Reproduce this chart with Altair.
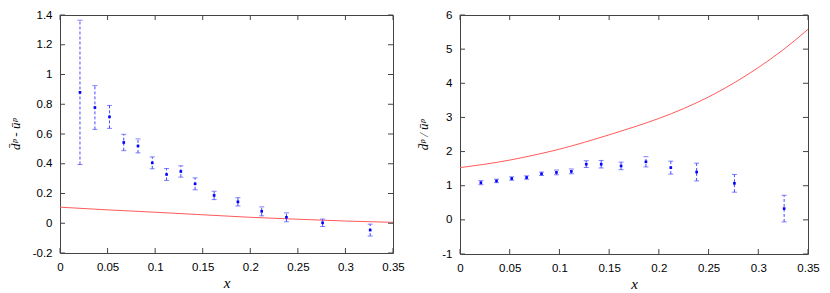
import altair as alt
import pandas as pd

# ---- data ----
x_bins = [0.021, 0.0367, 0.052, 0.067, 0.082, 0.097, 0.112, 0.127, 0.142,
          0.162, 0.187, 0.212, 0.238, 0.276, 0.326]

diff_vals = [0.88, 0.778, 0.715, 0.543, 0.52, 0.406, 0.328, 0.348, 0.265,
             0.187, 0.144, 0.08, 0.04, 0.003, -0.046]
diff_errs = [0.485, 0.147, 0.077, 0.055, 0.047, 0.04, 0.04, 0.038, 0.04,
             0.028, 0.028, 0.03, 0.03, 0.025, 0.04]

ratio_vals = [1.09, 1.14, 1.21, 1.24, 1.35, 1.39, 1.42, 1.63, 1.63,
              1.58, 1.70, 1.53, 1.40, 1.07, 0.33]
ratio_errs = [0.06, 0.05, 0.05, 0.05, 0.05, 0.07, 0.07, 0.10, 0.11,
              0.11, 0.15, 0.19, 0.26, 0.26, 0.39]

diff_curve_x = [0.0, 0.05, 0.1, 0.15, 0.2, 0.25, 0.3, 0.35]
diff_curve_y = [0.108, 0.090, 0.074, 0.057, 0.040, 0.027, 0.015, 0.006]

ratio_curve_x = [0.0, 0.025, 0.05, 0.075, 0.1, 0.125, 0.15, 0.175, 0.2,
                 0.225, 0.25, 0.275, 0.3, 0.325, 0.35]
ratio_curve_y = [1.53, 1.63, 1.75, 1.90, 2.07, 2.27, 2.49, 2.72, 2.97,
                 3.26, 3.60, 4.00, 4.46, 4.98, 5.58]

x_ticks = [0, 0.05, 0.1, 0.15, 0.2, 0.25, 0.3, 0.35]
diff_ticks = [-0.2, 0, 0.2, 0.4, 0.6, 0.8, 1.0, 1.2, 1.4]
ratio_ticks = [-1, 0, 1, 2, 3, 4, 5, 6]

LABEL_EXPR = ("datum.value < 0 ? '-' + format(-datum.value, '~g') "
              ": format(datum.value, '~g')")
BLUE = "#0000ff"
BAR = "#4a4aff"
RED = "#ff5a5a"
FRAME = "#444444"


def panel(vals, errs, cx, cy, ydomain, yticks, ytitle, width, height, ytitle_pad):
    pts = pd.DataFrame({
        "x": x_bins,
        "y": vals,
        "lo": [v - e for v, e in zip(vals, errs)],
        "hi": [v + e for v, e in zip(vals, errs)],
    })
    xscale = alt.Scale(domain=[0, 0.35], nice=False, zero=False)
    yscale = alt.Scale(domain=ydomain, nice=False, zero=False)
    xaxis = alt.Axis(values=x_ticks, labelExpr=LABEL_EXPR, title="x",
                     labelOverlap=False, labelFlush=False,
                     titleFont="Liberation Serif", titleFontStyle="italic",
                     titleFontSize=15, titleFontWeight="normal",
                     titlePadding=3, labelPadding=8)
    yaxis = alt.Axis(values=yticks, labelExpr=LABEL_EXPR, title=ytitle,
                     labelOverlap=False, labelFlush=False,
                     titleFont="Liberation Serif", titleFontStyle="italic",
                     titleFontSize=13, titleFontWeight="normal",
                     titlePadding=ytitle_pad, labelPadding=8)

    curve = alt.Chart(pd.DataFrame({"cx": cx, "cy": cy})).mark_line(
        color=RED, strokeWidth=1, interpolate="monotone", clip=True
    ).encode(
        x=alt.X("cx:Q", scale=xscale, axis=xaxis),
        y=alt.Y("cy:Q", scale=yscale, axis=yaxis),
    )
    base = alt.Chart(pts)
    bars = base.mark_rule(color=BAR, strokeWidth=1, strokeDash=[3, 2]).encode(
        x=alt.X("x:Q", axis=xaxis), y=alt.Y("lo:Q", axis=yaxis), y2="hi:Q")
    cap_lo = base.mark_tick(color=BAR, orient="horizontal", size=5,
                            thickness=1).encode(
        x=alt.X("x:Q", axis=xaxis), y=alt.Y("lo:Q", axis=yaxis))
    cap_hi = base.mark_tick(color=BAR, orient="horizontal", size=5,
                            thickness=1).encode(
        x=alt.X("x:Q", axis=xaxis), y=alt.Y("hi:Q", axis=yaxis))
    dots = base.mark_square(color=BLUE, size=7, opacity=1).encode(
        x=alt.X("x:Q", axis=xaxis), y=alt.Y("y:Q", axis=yaxis))

    ydf = alt.Chart(pd.DataFrame({"t": yticks}))
    xdf = alt.Chart(pd.DataFrame({"t": x_ticks}))
    tick_l = ydf.mark_rule(color=FRAME).encode(
        y=alt.Y("t:Q", axis=yaxis), x=alt.value(0), x2=alt.value(5))
    tick_r = ydf.mark_rule(color=FRAME).encode(
        y=alt.Y("t:Q", axis=yaxis), x=alt.value(width), x2=alt.value(width - 5))
    tick_b = xdf.mark_rule(color=FRAME).encode(
        x=alt.X("t:Q", axis=xaxis), y=alt.value(height), y2=alt.value(height - 5))
    tick_t = xdf.mark_rule(color=FRAME).encode(
        x=alt.X("t:Q", axis=xaxis), y=alt.value(0), y2=alt.value(5))

    return alt.layer(curve, bars, cap_lo, cap_hi, dots,
                     tick_l, tick_r, tick_b, tick_t).properties(
        width=width, height=height)


left = panel(diff_vals, diff_errs, diff_curve_x, diff_curve_y,
             [-0.2, 1.4], diff_ticks, "d\u0304\u1d56 - u\u0304\u1d56",
             333, 238, 10)
right = panel(ratio_vals, ratio_errs, ratio_curve_x, ratio_curve_y,
              [-1, 6], ratio_ticks, "d\u0304\u1d56 / u\u0304\u1d56",
              348, 239, 11)

chart = alt.hconcat(left, right, spacing=67, bounds="flush").properties(
    padding=0
).configure_view(
    stroke=FRAME, strokeWidth=1
).configure_axis(
    domain=False, ticks=False, grid=False, labelOverlap=False,
    labelFont="Liberation Sans", labelFontSize=11.5, labelColor="#000000",
    titleColor="#000000"
)

chart.save("out.html", embed_options={"renderer": "svg", "actions": False})
